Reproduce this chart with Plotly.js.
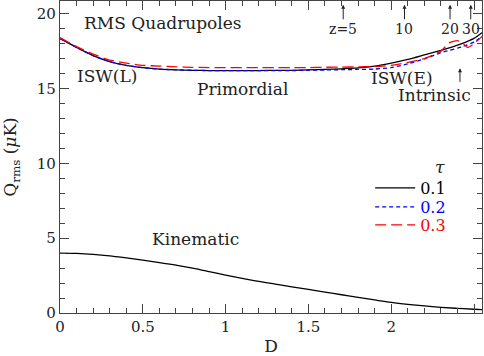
<!DOCTYPE html>
<html>
<head>
<meta charset="utf-8">
<script src="https://cdn.plot.ly/plotly-3.0.1.min.js"></script>
<style>
  html, body { margin: 0; padding: 0; background: #fff; }
  #plot { width: 484px; height: 356px; }
</style>
</head>
<body>
<div id="plot"></div>
<script>
// distance D, sampled grid
const dPrim = [0, 0.1, 0.2, 0.3, 0.4, 0.5, 0.6, 0.7, 0.8, 0.9, 1.0, 1.1, 1.2, 1.3, 1.4,
               1.5, 1.6, 1.7, 1.8, 1.9, 2.0, 2.1, 2.2, 2.3, 2.35, 2.4, 2.43, 2.46, 2.5, 2.55];

// total rms quadrupole, one per optical depth tau
const qTau01 = [18.35, 17.75, 17.2, 16.8, 16.55, 16.4, 16.3, 16.25, 16.22, 16.2, 16.2, 16.2, 16.2, 16.22, 16.22,
                16.25, 16.28, 16.32, 16.38, 16.5, 16.7, 16.95, 17.25, 17.55, 17.72, 17.9, 18.02, 18.15, 18.35, 18.75];
const qTau02 = [18.35, 17.75, 17.2, 16.8, 16.55, 16.4, 16.3, 16.25, 16.22, 16.2, 16.2, 16.2, 16.2, 16.2, 16.2,
                16.22, 16.24, 16.26, 16.28, 16.3, 16.4, 16.65, 16.98, 17.4, 17.55, 17.7, 17.8, 17.92, 18.1, 18.5];
const qTau03 = [18.4, 17.8, 17.3, 16.9, 16.7, 16.55, 16.5, 16.45, 16.42, 16.4, 16.4, 16.4, 16.4, 16.4, 16.4,
                16.4, 16.42, 16.43, 16.45, 16.47, 16.55, 16.75, 17.0, 17.5, 18.05, 18.2, 18.05, 17.75, 18.0, 18.5];

const dKin = [0, 0.1, 0.2, 0.3, 0.4, 0.5, 0.6, 0.7, 0.8, 0.9, 1.0, 1.1, 1.2, 1.3, 1.4,
              1.5, 1.6, 1.7, 1.8, 1.9, 2.0, 2.1, 2.2, 2.3, 2.4, 2.5, 2.55];
const qKin = [4.0, 3.98, 3.92, 3.82, 3.68, 3.53, 3.37, 3.2, 3.0, 2.77, 2.53, 2.31, 2.11, 1.93, 1.75,
              1.58, 1.4, 1.22, 1.04, 0.87, 0.71, 0.58, 0.47, 0.38, 0.31, 0.25, 0.22];

const tauNames = ['0.1', '0.2', '0.3'];
const tauColors = ['#000000', '#0000ff', '#ff0000'];

// redshift markers along the top
const zLabels = ['z=5', '10', '20', '30'];
const zPos = [1.71, 2.08, 2.355, 2.48];

const FONT = 'DejaVu Serif, serif';
const INK = '#222';

function makePlot() {
    const qSets = [qTau01, qTau02, qTau03];
    const dashes = ['solid', '4px,3px', '11px,5px'];
    const legendIds = ['legend', 'legend2', 'legend3'];

    const traces = qSets.map((q, i) => ({
        x: dPrim,
        y: q,
        type: 'scatter',
        mode: 'lines',
        line: { color: tauColors[i], width: 1.3, dash: dashes[i], shape: 'spline', smoothing: 0.5 },
        name: '<span style="color:' + tauColors[i] + '">' + tauNames[i] + '</span>',
        legend: legendIds[i]
    }));

    traces.push({
        x: dKin,
        y: qKin,
        type: 'scatter',
        mode: 'lines',
        line: { color: '#000', width: 1.3, shape: 'spline' },
        showlegend: false
    });

    const annotations = [
        { x: 0.133, y: 19.35, text: 'RMS Quadrupoles', xanchor: 'left' },
        { x: 0.284, y: 15.85, text: 'ISW(L)' },
        { x: 1.1, y: 15.0, text: 'Primordial' },
        { x: 2.066, y: 15.7, text: 'ISW(E)' },
        { x: 2.26, y: 14.55, text: 'Intrinsic' },
        { x: 0.82, y: 4.93, text: 'Kinematic' },
        { x: 2.295, y: 9.73, text: '<i>τ</i>' }
    ].map(a => Object.assign({ showarrow: false, font: { family: FONT, size: 17, color: INK } }, a));

    // arrow over the intrinsic label
    annotations.push({
        x: 2.415, y: 16.35, ax: 0, ay: 15, text: '', showarrow: true,
        arrowhead: 2, arrowsize: 0.8, arrowwidth: 1, arrowcolor: INK, standoff: 0
    });

    zLabels.forEach((lab, i) => {
        annotations.push({
            x: zPos[i], y: 20.6, ax: 0, ay: 24, text: lab, showarrow: true,
            arrowhead: 2, arrowsize: 0.8, arrowwidth: 1, arrowcolor: INK, standoff: 0,
            font: { family: FONT, size: 14, color: INK }
        });
    });

    // one small legend per tau row, stacked like the original key
    const legendY = [0.4006, 0.3397, 0.2821];
    const legendBase = {
        x: 0.735, xanchor: 'left', yanchor: 'middle',
        bgcolor: 'rgba(0,0,0,0)', font: { family: FONT, size: 16 },
        itemwidth: 40
    };

    const layout = {
        width: 484,
        height: 356,
        margin: { l: 60, r: 2, t: 1, b: 43 },
        paper_bgcolor: '#fff',
        plot_bgcolor: '#fff',
        font: { family: FONT, size: 15, color: INK },
        showlegend: true,
        legend: Object.assign({ y: legendY[0] }, legendBase),
        legend2: Object.assign({ y: legendY[1] }, legendBase),
        legend3: Object.assign({ y: legendY[2] }, legendBase),
        xaxis: {
            range: [0, 2.548],
            title: { text: 'D', font: { family: FONT, size: 17 }, standoff: 6 },
            tickvals: [0, 0.5, 1, 1.5, 2, 2.5],
            ticktext: ['0', '0.5', '1', '1.5', '2', '2.5'],
            ticks: 'inside', ticklen: 9, tickcolor: '#444', tickwidth: 1,
            minor: { dtick: 0.1, ticks: 'inside', ticklen: 5, tickcolor: '#444' },
            showline: true, linecolor: '#444', linewidth: 1.2, mirror: 'ticks',
            showgrid: false, zeroline: false
        },
        yaxis: {
            range: [0, 20.85],
            title: { text: 'Q<sub>rms</sub> (<i>μ</i>K)', font: { family: FONT, size: 17 }, standoff: 16 },
            tickvals: [0, 5, 10, 15, 20],
            ticks: 'inside', ticklen: 9, tickcolor: '#444', tickwidth: 1,
            minor: { dtick: 1, ticks: 'inside', ticklen: 5, tickcolor: '#444' },
            showline: true, linecolor: '#444', linewidth: 1.2, mirror: 'ticks',
            showgrid: false, zeroline: false
        },
        annotations: annotations
    };

    Plotly.newPlot('plot', traces, layout, { displayModeBar: false, staticPlot: true });
}

window.onload = function() {
    makePlot();
};
</script>
</body>
</html>
